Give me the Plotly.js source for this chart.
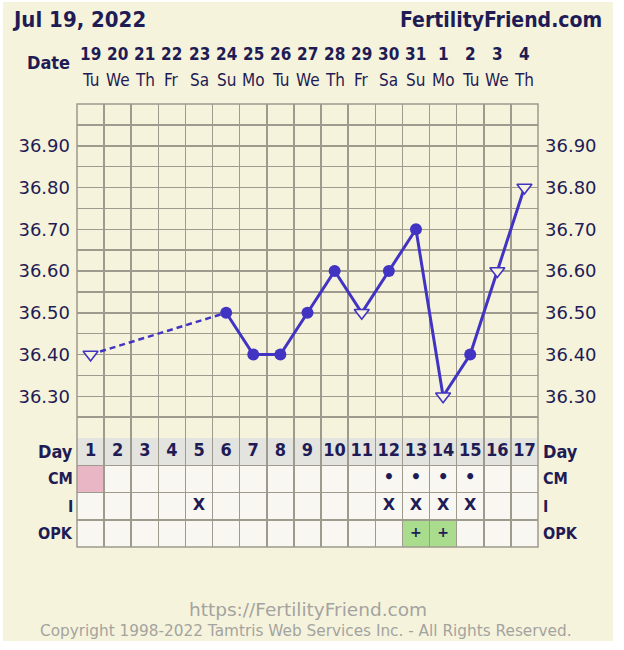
<!DOCTYPE html>
<html>
<head>
<meta charset="utf-8">
<script src="https://cdn.plot.ly/plotly-3.0.1.min.js"></script>
<style>html,body{margin:0;padding:0;background:#fff;}#chart{width:624px;height:650px;}</style>
</head>
<body>
<div id="chart"></div>
<script>
// ---- data ----
const days = [1,2,3,4,5,6,7,8,9,10,11,12,13,14,15,16,17];
const dateNums = ['19','20','21','22','23','24','25','26','27','28','29','30','31','1','2','3','4'];
const weekdays = ['Tu','We','Th','Fr','Sa','Su','Mo','Tu','We','Th','Fr','Sa','Su','Mo','Tu','We','Th'];
const temps = [36.40,null,null,null,null,36.50,36.40,36.40,36.50,36.60,36.50,36.60,36.70,36.30,36.40,36.60,36.80];
const openDays = [1,11,14,16,17];          // hollow triangle markers
const dashedUntil = 6;                     // dashed line from day 1 to day 6
const tempTicks = [36.30,36.40,36.50,36.60,36.70,36.80,36.90];
const rowLabels = ['Day','CM','I','OPK'];
const cmText = ['','','','','','','','','','','','•','•','•','•','',''];
const cmColor = {1:'#e8b6c5'};
const iText = ['','','','','X','','','','','','','X','X','X','X','',''];
const opkText = ['','','','','','','','','','','','','+','+','','',''];
const opkColor = {13:'#a9dc8d',14:'#a9dc8d'};

// ---- style ----
const NAVY = '#1f1c55';
const LINE = '#4234c2';
const GRID = '#9e9a8d';
const CREAM = '#f6f3dc';

const px = (Y) => (547 - Y) / 443;   // page y -> paper y
const pxx = (X) => (X - 77) / 461;   // page x -> paper x

const traces = [];
// dashed segment
const dx = days.filter(d => d <= dashedUntil && temps[d-1] != null);
traces.push({x: dx, y: dx.map(d => temps[d-1]), mode:'lines', line:{color:LINE, width:2.5, dash:'6px,4px'}, hoverinfo:'skip', showlegend:false});
// solid segment
const sx = days.filter(d => d >= dashedUntil && temps[d-1] != null);
traces.push({x: sx, y: sx.map(d => temps[d-1]), mode:'lines', line:{color:LINE, width:3}, hoverinfo:'skip', showlegend:false});
// filled circles
const cx = days.filter(d => temps[d-1] != null && !openDays.includes(d));
traces.push({x: cx, y: cx.map(d => temps[d-1]), mode:'markers', marker:{symbol:'circle', size:12, color:LINE}, hoverinfo:'skip', showlegend:false});
// hollow triangles
const tx = days.filter(d => temps[d-1] != null && openDays.includes(d));
traces.push({x: tx, y: tx.map(d => temps[d-1]), mode:'markers', marker:{symbol:'triangle-down', size:13, color:CREAM, line:{color:LINE, width:1.6}}, hoverinfo:'skip', showlegend:false});
// invisible trace for right axis
traces.push({x: days, y: temps, yaxis:'y2', mode:'markers', marker:{opacity:0}, hoverinfo:'skip', showlegend:false});

// table texts
const rowY = (i) => 3.5 - i;
traces.push({x: days, y: days.map(() => rowY(0)), yaxis:'y3', mode:'text', text: days.map(d => '<b>'+d+'</b>'), textfont:{family:'DejaVu Sans Condensed', size:18, color:NAVY}, hoverinfo:'skip', showlegend:false});
traces.push({x: days, y: days.map(() => rowY(1)), yaxis:'y3', mode:'text', text: cmText.map(t => t ? '<b>'+t+'</b>' : ''), textfont:{family:'DejaVu Sans', size:17, color:NAVY}, hoverinfo:'skip', showlegend:false});
traces.push({x: days, y: days.map(() => rowY(2)), yaxis:'y3', mode:'text', text: iText.map(t => t ? '<b>'+t+'</b>' : ''), textfont:{family:'DejaVu Sans', size:16, color:NAVY}, hoverinfo:'skip', showlegend:false});
traces.push({x: days, y: days.map(() => rowY(3)), yaxis:'y3', mode:'text', text: opkText.map(t => t ? '<b>'+t+'</b>' : ''), textfont:{family:'DejaVu Sans', size:14, color:NAVY}, hoverinfo:'skip', showlegend:false});

// ---- shapes ----
const shapes = [];
shapes.push({type:'rect', xref:'paper', yref:'paper', x0:pxx(3), x1:pxx(613), y0:px(641), y1:px(2), fillcolor:CREAM, line:{width:0}, layer:'below'});
// table cell backgrounds
shapes.push({type:'rect', xref:'x', yref:'y3', x0:0.5, x1:17.5, y0:3, y1:4, fillcolor:'#e3e3df', line:{width:0}, layer:'below'});
shapes.push({type:'rect', xref:'x', yref:'y3', x0:0.5, x1:17.5, y0:0, y1:3, fillcolor:'#f8f7f1', line:{width:0}, layer:'below'});
Object.keys(cmColor).forEach(d => shapes.push({type:'rect', xref:'x', yref:'y3', x0:+d-0.5, x1:+d+0.5, y0:2, y1:3, fillcolor:cmColor[d], line:{width:0}, layer:'below'}));
Object.keys(opkColor).forEach(d => shapes.push({type:'rect', xref:'x', yref:'y3', x0:+d-0.5, x1:+d+0.5, y0:0, y1:1, fillcolor:opkColor[d], line:{width:0}, layer:'below'}));
// border
shapes.push({type:'rect', xref:'paper', yref:'paper', x0:0, x1:1, y0:0, y1:1, line:{color:GRID, width:1.5}, layer:'above'});

// ---- annotations ----
const ann = [];
ann.push({xref:'paper', yref:'paper', x:pxx(10), y:px(20), xanchor:'left', yanchor:'middle', showarrow:false, text:'<b>Jul 19, 2022</b>', font:{family:'DejaVu Sans Condensed', size:22, color:NAVY}});
ann.push({xref:'paper', yref:'paper', x:pxx(604), y:px(20), xanchor:'right', yanchor:'middle', showarrow:false, text:'<b>FertilityFriend.com</b>', font:{family:'DejaVu Sans Condensed', size:21, color:NAVY}});
ann.push({xref:'paper', yref:'paper', x:pxx(48), y:px(62), xanchor:'center', yanchor:'middle', showarrow:false, text:'<b>Date</b>', font:{family:'DejaVu Sans Condensed', size:18, color:NAVY}});
days.forEach((d,i) => {
  ann.push({xref:'x', yref:'paper', x:d, y:px(54), xanchor:'center', yanchor:'middle', showarrow:false, text:'<b>'+dateNums[i]+'</b>', font:{family:'DejaVu Sans Condensed', size:17, color:NAVY}});
  ann.push({xref:'x', yref:'paper', x:d, y:px(80), xanchor:'center', yanchor:'middle', showarrow:false, text:weekdays[i], font:{family:'DejaVu Sans Condensed', size:17, color:NAVY}});
});
rowLabels.forEach((r,i) => {
  const sz = i === 0 ? 18 : 16;
  ann.push({xref:'paper', yref:'y3', x:0, y:rowY(i), xanchor:'right', yanchor:'middle', xshift:-2, showarrow:false, text:'<b>'+r+'</b>', font:{family:'DejaVu Sans Condensed', size:sz, color:NAVY}});
  ann.push({xref:'paper', yref:'y3', x:1, y:rowY(i), xanchor:'left', yanchor:'middle', xshift:3, showarrow:false, text:'<b>'+r+'</b>', font:{family:'DejaVu Sans Condensed', size:sz, color:NAVY}});
});
ann.push({xref:'paper', yref:'paper', x:pxx(308), y:px(609), xanchor:'center', yanchor:'middle', showarrow:false, text:'https://FertilityFriend.com', font:{family:'DejaVu Sans', size:18.5, color:'#a3a3a0'}});
ann.push({xref:'paper', yref:'paper', x:pxx(306), y:px(631), xanchor:'center', yanchor:'middle', showarrow:false, text:'Copyright 1998-2022 Tamtris Web Services Inc. - All Rights Reserved.', font:{family:'DejaVu Sans', size:15.3, color:'#a3a3a0'}});

const boundaries = days.map(d => d - 0.5).concat([days[days.length-1] + 0.5]);
const yTickText = tempTicks.map(v => v.toFixed(2));

const layout = {
  width:624, height:650,
  margin:{l:77, r:86, t:104, b:103, pad:0},
  paper_bgcolor:'#ffffff', plot_bgcolor:'rgba(0,0,0,0)',
  showlegend:false,
  font:{family:'DejaVu Sans', color:NAVY},
  xaxis:{range:[0.5,17.5], anchor:'y3', tickvals:boundaries, showticklabels:false, ticks:'', showgrid:true, gridcolor:GRID, gridwidth:1.5, zeroline:false, showline:false, fixedrange:true},
  yaxis:{domain:[109/443,1], anchor:'x', range:[36.2,37.0], tickvals:tempTicks, ticktext:yTickText, ticks:'', ticklabelstandoff:6, tickfont:{family:'DejaVu Sans', size:18, color:NAVY}, showgrid:true, gridcolor:GRID, gridwidth:1.5, minor:{tick0:36.2, dtick:0.05, showgrid:true, gridcolor:GRID, gridwidth:1.5}, zeroline:false, showline:false},
  yaxis2:{overlaying:'y', side:'right', anchor:'x', range:[36.2,37.0], tickvals:tempTicks, ticktext:yTickText, ticks:'', ticklabelstandoff:6, tickfont:{family:'DejaVu Sans', size:18, color:NAVY}, showgrid:false, zeroline:false, showline:false},
  yaxis3:{domain:[0,109/443], anchor:'x', range:[0,4], tickvals:[0,1,2,3,4], showticklabels:false, ticks:'', showgrid:true, gridcolor:GRID, gridwidth:1.5, zeroline:false, showline:false},
  shapes:shapes,
  annotations:ann
};

Plotly.newPlot('chart', traces, layout, {displayModeBar:false, staticPlot:true});
</script>
</body>
</html>
